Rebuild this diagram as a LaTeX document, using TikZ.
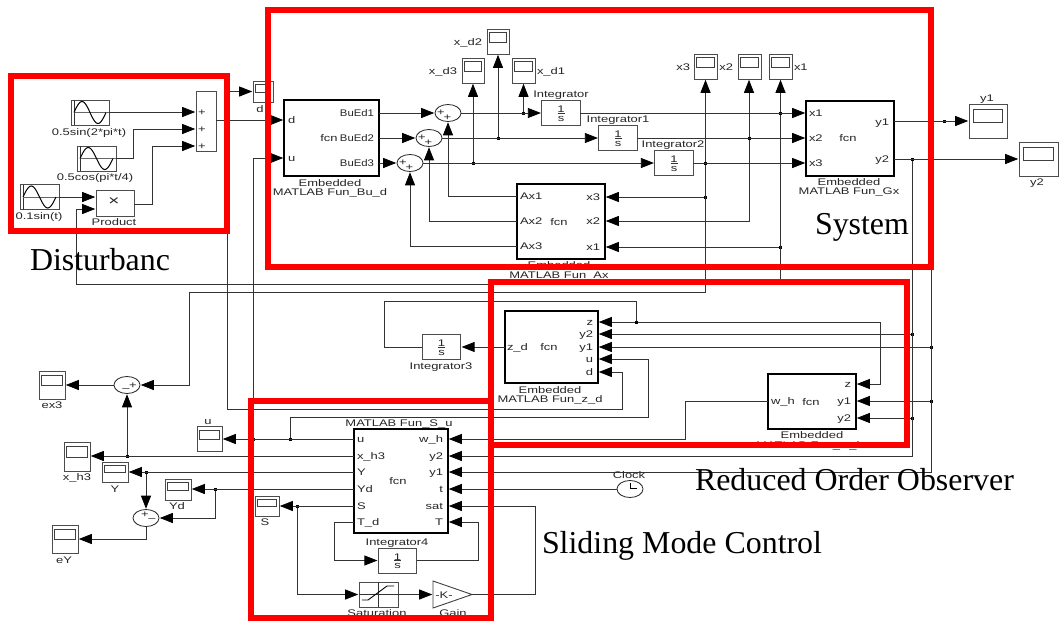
\documentclass[tikz,border=0pt]{standalone}
\usepackage{fontspec}
\setmainfont{Liberation Serif}
\newfontfamily\blockfont[FakeStretch=1.35]{Liberation Sans}
\newfontfamily\blocknarrow[FakeStretch=1.18]{Liberation Sans}
\usetikzlibrary{arrows.meta,shapes.geometric,calc}
\tikzset{
  wire/.style={line width=0.8pt,draw=black!80},
  arr/.style={wire,-{Triangle[length=13pt,width=10pt,black]},shorten >=0.8pt,shorten <=0pt},
  lbl/.style={inner sep=0pt,outer sep=0pt,text=black!85,text height=7pt,text depth=0pt,font=\blockfont\fontsize{9.6}{10}\selectfont},
  thinbox/.style={draw=black!70,line width=0.9pt,fill=white,inner sep=0pt,outer sep=0pt},
  scopebox/.style={thinbox},
  screenbox/.style={draw=black!75,line width=0.9pt},
  fcnbox/.style={draw=black,line width=1.9pt,fill=white,inner sep=0pt,outer sep=0pt},
  sumnode/.style={draw=black!85,line width=0.8pt,fill=white,ellipse,inner sep=0pt,outer sep=0pt,minimum width=26pt,minimum height=17pt},
  jdot/.style={fill=black,inner sep=0pt,outer sep=0pt,minimum size=3pt},
  redbox/.style={draw=red,line width=6pt},
  bigt/.style={inner sep=0pt,outer sep=0pt,text=black,font=\fontsize{31.9}{34}\selectfont},
}
\newcommand{\mylb}[5]{\node[lbl,anchor=#4] (#1) at (#2,#3) {#5};}
\newcommand{\myblk}[6]{\node[#6,minimum width={((#4)-(#2))*1pt},minimum height={((#5)-(#3))*1pt}] (#1) at ({((#2)+(#4))/2},{((#3)+(#5))/2}) {};}
\newcommand{\myscp}[5]{%
  \myblk{#1}{#2}{#3}{#4}{#5}{scopebox}%
  \pgfmathsetmacro\sa{0.11*(#4-#2)}\pgfmathsetmacro\sb{0.15*(#5-#3)}\pgfmathsetmacro\sc{0.38*(#5-#3)}%
  \draw[screenbox] ({#2+\sa},{#3+\sb}) rectangle ({#4-\sa},{#3+\sb+\sc});}
\newcommand{\mysine}[5]{%
  \myblk{#1}{#2}{#3}{#4}{#5}{thinbox}%
  \draw[black!80,line width=0.8pt] ({#2+3},#3) -- ({#2+3},#5);
  \draw[black!60,line width=0.6pt] ({#2+3},{(#3+#5)/2}) -- (#4,{(#3+#5)/2});
  \draw[black,line width=1pt] plot[domain=0:360,samples=37] ({#2+3+\x/360*(#4-#2-6)},{(#3+#5)/2-11*sin(\x)});}
\newcommand{\myint}[3]{%
  \myblk{#1}{#2-19.3}{#3-12.5}{#2+19.3}{#3+12.5}{thinbox}%
  \mylb{#1n}{#2}{#3-4}{center}{1}\mylb{#1d}{#2}{#3+4.5}{center}{s}%
  \draw[black!80,line width=0.8pt] ({#2-3.5},#3) -- ({#2+3.5},#3);}
\newcommand{\myjn}[3]{\node[jdot] (#1) at (#2,#3) {};}
\newcommand{\mysum}[3]{\node[sumnode] (#1) at (#2,#3) {};}
\begin{document}
\begin{tikzpicture}[x=1pt,y=-1pt]
\useasboundingbox (0,0) rectangle (1059,621);
\fill[white] (0,0) rectangle (1059,621);

% ---------- port coordinates ----------
\coordinate (sd1) at (196,112); \coordinate (sd2) at (196,129); \coordinate (sd3) at (196,146);
\coordinate (sdO) at (216,120); \coordinate (pr1) at (96,197); \coordinate (pr2) at (96,209); \coordinate (prO) at (134,204);
\coordinate (bud) at (284,120); \coordinate (buu) at (284,158);
\coordinate (axO1) at (517,196); \coordinate (axO2) at (517,221); \coordinate (axO3) at (517,246);
\coordinate (axI3) at (605,197); \coordinate (axI2) at (605,221); \coordinate (axI1) at (605,247);
\coordinate (gxI1) at (806,113); \coordinate (gxI2) at (806,138); \coordinate (gxI3) at (806,163);
\coordinate (gxO1) at (894,121); \coordinate (gxO2) at (894,159);
\coordinate (zdz) at (598,322); \coordinate (zdy2) at (598,334); \coordinate (zdy1) at (598,347); \coordinate (zdu) at (598,359); \coordinate (zdd) at (598,372); \coordinate (zdw) at (505,347);
\coordinate (roz) at (856,384); \coordinate (roy1) at (856,401); \coordinate (roy2) at (856,418); \coordinate (row) at (768,401);
\coordinate (suu) at (354,439); \coordinate (suxh) at (354,456); \coordinate (suY) at (354,472); \coordinate (suYd) at (354,489); \coordinate (suS) at (354,506); \coordinate (suTd) at (354,522);
\coordinate (suw) at (448,439); \coordinate (suy2) at (448,456); \coordinate (suy1) at (448,472); \coordinate (sut) at (448,489); \coordinate (susat) at (448,506); \coordinate (suT) at (448,522);
\coordinate (bus1) at (76,284); \coordinate (bus3) at (189,292); \coordinate (busd) at (622,409); \coordinate (busu) at (648,417); \coordinate (busz) at (384,301);
\coordinate (cz) at (880,322); \coordinate (cw) at (685,439); \coordinate (cT) at (478,522); \coordinate (cTd) at (334,560.5); \coordinate (csat) at (535,506);
\coordinate (gainB) at (433,594.5); \coordinate (gainA) at (472,594.5); \coordinate (gainT) at (433,581); \coordinate (gainL) at (433,608);

% ---------- disturbance blocks ----------
\mysine{sinA}{71}{100}{109}{125}
\mylb{tsinA}{89}{132}{center}{0.5sin(2*pi*t)}
\mysine{sinB}{77}{146}{116}{171}
\mylb{tsinB}{95}{177}{center}{0.5cos(pi*t/4)}
\mysine{sinC}{20}{184.5}{59}{209.5}
\mylb{tsinC}{39}{216}{center}{0.1sin(t)}
\myblk{prod}{96}{190}{134}{216}{thinbox}
\node[inner sep=0pt,outer sep=0pt,text=black!85,font=\blockfont\fontsize{14}{14}\selectfont] (tprodx) at (114,201.5) {×};
\mylb{tprod}{114}{222}{center}{Product}
\myblk{sumD}{196}{91}{216}{151}{thinbox}
\mylb{tsd1}{202}{112}{center}{+}\mylb{tsd2}{202}{129}{center}{+}\mylb{tsd3}{202}{146}{center}{+}
\myscp{dS}{253}{81}{273}{102}
\mylb{tdS}{260}{109}{center}{d}

% ---------- system blocks ----------
\myblk{Bu}{284}{100}{379}{176}{fcnbox}
\mylb{tBuD}{288}{120}{west}{d}\mylb{tBuU}{288}{158}{west}{u}
\mylb{tBuF}{329}{138}{center}{fcn}
\mylb{tBu1}{374}{113}{east}{\blocknarrow BuEd1}\mylb{tBu2}{374}{138}{east}{\blocknarrow BuEd2}\mylb{tBu3}{374}{163}{east}{\blocknarrow BuEd3}
\mylb{tBuA}{330}{183}{center}{Embedded}\mylb{tBuB}{330}{192}{center}{MATLAB Fun\_Bu\_d}
\mysum{sA}{448}{113}\mysum{sB}{429}{138}\mysum{sC}{410}{163}
\mylb{psA1}{441}{112}{center}{+}\mylb{psA2}{447.5}{117}{center}{+}
\mylb{psB1}{422}{137}{center}{+}\mylb{psB2}{428.5}{142}{center}{+}
\mylb{psC1}{403}{162}{center}{+}\mylb{psC2}{409.5}{167}{center}{+}
\myscp{xdB}{487}{29}{509}{54}\mylb{txdB}{482}{42}{east}{x\_d2}
\myscp{xdC}{462}{58}{484}{83}\mylb{txdC}{457}{71}{east}{x\_d3}
\myscp{xdA}{512}{58}{535}{83}\mylb{txdA}{537}{71}{west}{x\_d1}
\myint{intA}{561}{113}\mylb{tintA}{561}{94}{center}{Integrator}
\myint{intB}{618}{138}\mylb{tintB}{618}{119}{center}{Integrator1}
\myint{intC}{674}{163}\mylb{tintC}{673}{144}{center}{Integrator2}
\myblk{Ax}{517}{184}{605}{259}{fcnbox}
\mylb{tAx1}{520}{196}{west}{Ax1}\mylb{tAx2}{520}{221}{west}{Ax2}\mylb{tAx3}{520}{246}{west}{Ax3}
\mylb{tAxF}{559}{222}{center}{fcn}
\mylb{tAxI3}{600}{197}{east}{x3}\mylb{tAxI2}{600}{221}{east}{x2}\mylb{tAxI1}{600}{247}{east}{x1}
\mylb{tAxA}{559}{265}{center}{Embedded}\mylb{tAxB}{559}{275}{center}{MATLAB Fun\_Ax}
\myblk{Gx}{806}{101}{894}{176}{fcnbox}
\mylb{tGx1}{809}{113}{west}{x1}\mylb{tGx2}{809}{138}{west}{x2}\mylb{tGx3}{809}{163}{west}{x3}
\mylb{tGxF}{848}{138}{center}{fcn}
\mylb{tGxO1}{889}{122}{east}{y1}\mylb{tGxO2}{889}{159}{east}{y2}
\mylb{tGxA}{849}{182}{center}{Embedded}\mylb{tGxB}{849}{191}{center}{MATLAB Fun\_Gx}
\myscp{xC}{694}{54}{717}{79}\mylb{txC}{690}{67}{east}{x3}
\myscp{xB}{738}{54}{761}{79}\mylb{txB}{733}{67}{east}{x2}
\myscp{xA}{769}{54}{792}{79}\mylb{txA}{794}{67}{west}{x1}
\myscp{yA}{969}{104}{1007}{138}\mylb{tyA}{987}{98}{center}{y1}
\myscp{yB}{1019}{142}{1058}{176}\mylb{tyB}{1037}{182}{center}{y2}

% ---------- observer blocks ----------
\myblk{Zd}{505}{311}{598}{383}{fcnbox}
\mylb{tZw}{507}{347}{west}{z\_d}\mylb{tZF}{549}{347}{center}{fcn}
\mylb{tZ1}{593}{322}{east}{z}\mylb{tZ2}{593}{334}{east}{y2}\mylb{tZ3}{593}{347}{east}{y1}\mylb{tZ4}{593}{359}{east}{u}\mylb{tZ5}{593}{372}{east}{d}
\mylb{tZA}{550}{390}{center}{Embedded}\mylb{tZB}{550}{399}{center}{MATLAB Fun\_z\_d}
\myint{intD}{441.5}{347}\mylb{tintD}{441}{366}{center}{Integrator3}
\myblk{Ro}{768}{374}{856}{429}{fcnbox}
\mylb{tRw}{771}{401}{west}{w\_h}\mylb{tRF}{811}{402}{center}{fcn}
\mylb{tR1}{851}{384}{east}{z}\mylb{tR2}{851}{401}{east}{y1}\mylb{tR3}{851}{418}{east}{y2}
\mylb{tRA}{812}{435}{center}{Embedded}\mylb{tRB}{810}{444.5}{center}{MATLAB Fun\_w\_h}

% ---------- sliding mode control blocks ----------
\myblk{Su}{354}{429}{448}{533}{fcnbox}
\mylb{tSuT}{399}{423}{center}{MATLAB Fun\_S\_u}
\mylb{tSF}{398}{481}{center}{fcn}
\mylb{tS1}{357}{439}{west}{u}\mylb{tS2}{357}{456}{west}{x\_h3}\mylb{tS3}{357}{472}{west}{Y}\mylb{tS4}{357}{489}{west}{Yd}\mylb{tS5}{357}{506}{west}{S}\mylb{tS6}{357}{522}{west}{T\_d}
\mylb{tS7}{443}{439}{east}{w\_h}\mylb{tS8}{443}{456}{east}{y2}\mylb{tS9}{443}{472}{east}{y1}\mylb{tS10}{443}{489}{east}{t}\mylb{tS11}{443}{506}{east}{sat}\mylb{tS12}{443}{522}{east}{T}
\myint{intE}{397.5}{560.5}\mylb{tintE}{397}{542}{center}{Integrator4}
\myblk{Sat}{359}{582}{398}{607}{thinbox}
\draw[black!80,line width=0.8pt] (378.5,582) -- (378.5,607) (359,594.5) -- (398,594.5);
\draw[black,line width=0.9pt] (362,600) -- (368,600) -- (387,586) -- (394,586);
\mylb{tSat}{377}{613}{center}{Saturation}
\draw[draw=black!75,line width=0.9pt,fill=white] (gainT) -- (gainA) -- (gainL) -- cycle;
\mylb{tgainK}{444}{595}{center}{-K-}
\mylb{tgain}{453}{613}{center}{Gain}
\node[draw=black!85,line width=0.8pt,fill=white,ellipse,inner sep=0pt,outer sep=0pt,minimum width=26pt,minimum height=17pt] (clock) at (630,489) {};
\draw[black,line width=0.8pt] (630,483) -- (630,488.5) -- (637,488.5);
\mylb{tclock}{629}{475}{center}{Clock}

% ---------- output scopes and sums ----------
\myscp{uS}{197}{426.5}{222}{451.5}\mylb{tuS}{208}{421}{center}{u}
\myscp{xhS}{64}{442}{90}{471}\mylb{txhS}{77}{476.5}{center}{x\_h3}
\myscp{YS}{102}{462}{128}{482}\mylb{tYS}{115}{489}{center}{Y}
\myscp{YdS}{165}{479}{191}{500}\mylb{tYdS}{177}{506}{center}{Yd}
\myscp{exS}{39}{371}{65}{399}\mylb{texS}{52}{405}{center}{ex3}
\myscp{eYS}{52}{525}{78}{553}\mylb{teYS}{64}{560}{center}{eY}
\myscp{sS}{255}{496}{279}{516}\mylb{tsS}{265}{522}{center}{S}
\mysum{sEx}{127}{385}\mysum{sEy}{146}{518}
\mylb{psE1}{126}{388}{center}{–}\mylb{psE2}{133}{385}{center}{+}
\mylb{psY1}{145}{514}{center}{+}\mylb{psY2}{152}{518}{center}{–}

% ---------- junctions ----------
\myjn{jdd}{227}{120}
\myjn{jdA}{523.5}{113}\myjn{jdB}{498}{138}\myjn{jdC}{473}{163}
\myjn{jxA}{780.5}{113}\myjn{jxB}{749}{138}\myjn{jxC}{705.5}{163}
\myjn{jxCb}{705.5}{197}\myjn{jxAb}{780.5}{247}
\myjn{jyAa}{931}{121}\myjn{jyAd}{944}{121}\myjn{jyB}{912}{159}
\myjn{jyBa}{912}{334}\myjn{jyBb}{912}{418}
\myjn{jyAb}{931}{347}\myjn{jyAc}{931}{401}
\myjn{jz}{636}{322}
\myjn{juA}{253}{439}\myjn{juB}{290}{439}
\myjn{jh}{127}{456}\myjn{jY}{146}{472}\myjn{jYd}{215}{489}\myjn{jS}{297}{506}

% ---------- connectors: disturbance ----------
\draw[arr] (sinA.east |- sd1) -- (sd1);
\draw[arr] (sinB.east) -| ($(sinB.east)+(17,0)$) |- (sd2);
\draw[arr] (sinC.east |- pr1) -- (pr1);
\draw[arr] (prO) -- ($(prO)+(18,0)$) |- (sd3);
\draw[arr] (sdO) -- (bud);
\draw[arr] (jdd) |- (dS.west);
\draw[arr] (jdd) |- (busd) |- (zdd);
% ---------- connectors: system ----------
\draw[arr] (Bu.east |- sA) -- (sA);
\draw[arr] (Bu.east |- sB) -- (sB);
\draw[arr] (Bu.east |- sC) -- (sC);
\draw[arr] (sA) -- (intA);
\draw[arr] (sB) -- (intB);
\draw[arr] (sC) -- (intC);
\draw[arr] (jdA) -- (jdA |- xdA.south);
\draw[arr] (jdB) -- (jdB |- xdB.south);
\draw[arr] (jdC) -- (jdC |- xdC.south);
\draw[arr] (axO1) -| (sA.south);
\draw[arr] (axO2) -| (sB.south);
\draw[arr] (axO3) -| (sC.south);
\draw[arr] (intA) -- (gxI1);
\draw[arr] (intB) -- (gxI2);
\draw[arr] (intC) -- (gxI3);
\draw[arr] (jxA) -- (jxA |- xA.south);
\draw[arr] (jxB) -- (jxB |- xB.south);
\draw[arr] (jxC) -- (jxC |- xC.south);
\draw[arr] (jxCb) -- (axI3);
\draw[arr] (jxB) |- (axI2);
\draw[arr] (jxAb) -- (axI1);
\draw[arr] (jxA) |- (bus1) |- (pr2);
\draw[arr] (jxC) |- (bus3) |- (sEx.east);
\draw[arr] (gxO1) -- (yA.west |- gxO1);
\draw[arr] (gxO2) -- (yB.west |- gxO2);
\draw[arr] (jyB) |- (suy2);
\draw[arr] (jyAa) |- (suy1);
\draw[arr] (jyBa) -- (zdy2);
\draw[arr] (jyBb) -- (roy2);
\draw[arr] (jyAb) -- (zdy1);
\draw[arr] (jyAc) -- (roy1);
% ---------- connectors: observer ----------
\draw[arr] (zdw) -- (intD);
\draw[wire] (intD) -| (busz) -| (jz);
\draw[arr] (jz) -- (zdz);
\draw[arr] (jz) -- (cz) |- (roz);
\draw[arr] (row) -| (cw) -- (suw);
% ---------- connectors: sliding mode control ----------
\draw[arr] (suu) -- (uS.east |- suu);
\draw[arr] (juA) |- (buu);
\draw[arr] (juB) |- (busu) |- (zdu);
\draw[arr] (suxh) -- (xhS.east |- suxh);
\draw[arr] (jh) -- (sEx.south);
\draw[arr] (sEx.west) -- (exS.east);
\draw[arr] (suY) -- (YS.east |- suY);
\draw[arr] (jY) -- (sEy.north);
\draw[arr] (suYd) -- (YdS.east |- suYd);
\draw[arr] (jYd) |- (sEy.east);
\draw[arr] (sEy.south) |- (eYS.east);
\draw[arr] (suS) -- (sS.east |- suS);
\draw[arr] (jS) |- (Sat.west);
\draw[arr] (Sat.east) -- (gainB);
\draw[wire] (suTd) -| (cTd);
\draw[arr] (cTd) -- (intE);
\draw[arr] (intE) -| (cT) -- (suT);
\draw[arr] (gainA) -| (csat) -- (susat);
\draw[arr] (clock) -- (sut);

% ---------- red frames ----------
\draw[redbox] (10.5,75.5) rectangle (227,231);
\draw[redbox] (267.5,10) rectangle (931,267);
\draw[redbox] (491,281.5) rectangle (907,444.5);
\draw[redbox] (251,401) rectangle (490.5,618);

% ---------- captions ----------
\node[bigt,anchor=base west] (capD) at (30,270) {Disturbanc};
\node[bigt,anchor=base west] (capS) at (815,234) {System};
\node[bigt,anchor=base west] (capR) at (695,490) {Reduced Order Observer};
\node[bigt,anchor=base west] (capM) at (542,553) {Sliding Mode Control};
\end{tikzpicture}
\end{document}
